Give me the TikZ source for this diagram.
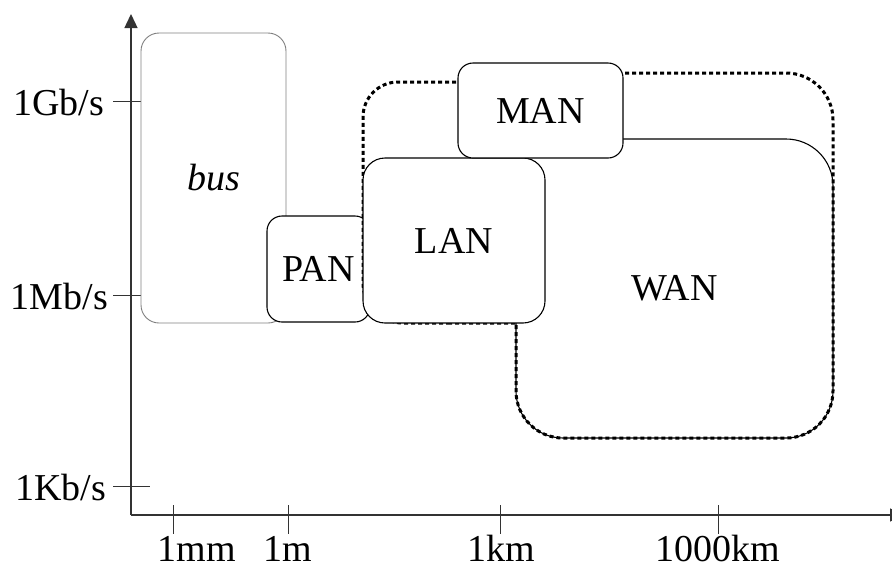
\documentclass[tikz,border=0pt]{standalone}
\usepackage{fontspec}
\setmainfont{Liberation Serif}
\usetikzlibrary{arrows.meta}

\begin{document}
\begin{tikzpicture}[x=1pt,y=-1pt,
  net/.style={draw,line width=1.1pt,fill=white,inner sep=0pt,font=\fontsize{38}{42}\selectfont},
  lbl/.style={inner sep=0pt,font=\fontsize{38}{42}\selectfont},
  axis/.style={draw=black!80,line width=1.4pt,-{Triangle[length=14pt,width=13pt]}},
  tickline/.style={draw=black!80,line width=1pt},
  outline/.style={line width=3pt,dash pattern=on 4pt off 3pt}]
\useasboundingbox (0,0) rectangle (892,574);

% axes
\coordinate (O) at (131,515);
\coordinate (ytop) at (131,14);
\coordinate (xend) at (904,515);
\draw[axis] (O) -- (ytop);
\draw[axis] (O) -- (xend);

% rate axis
\draw[tickline] (113,101) -- (142,101);
\draw[tickline] (113,295) -- (142,295);
\draw[tickline] (113,486) -- (150,486);
\node[lbl,anchor=east] (gbs) at (104,102) {1Gb/s};
\node[lbl,anchor=east] (mbs) at (108,296) {1Mb/s};
\node[lbl,anchor=east] (kbs) at (106,487) {1Kb/s};

% distance axis
\draw[tickline] (173,505) -- (173,534);
\draw[tickline] (288,505) -- (288,534);
\draw[tickline] (500,505) -- (500,534);
\draw[tickline] (718,505) -- (718,534);
\node[lbl,anchor=base] (mm) at (197,561) {1mm};
\node[lbl,anchor=base] (m) at (288,561) {1m};
\node[lbl,anchor=base] (km) at (501,561) {1km};
\node[lbl,anchor=base] (tkm) at (718,561) {1000km};

% networks
\node[net,draw=black!50,line width=0.9pt,rounded corners=18pt,
  minimum width=145pt,minimum height=290pt] (bus) at (213.5,178) {\textit{bus}};
\node[net,rounded corners=15pt,minimum width=103pt,minimum height=106pt] (pan) at (318.5,269) {PAN};
\node[net,rounded corners=47pt,minimum width=317pt,minimum height=299pt] (wan) at (674.5,288.5) {WAN};

\draw[outline] (450,323) [rounded corners=40pt] -- (363,323) [rounded corners=35pt] -- (363,82)
  [sharp corners] -- (540,82) -- (540,73) [rounded corners=47pt] -- (833,73) -- (833,438)
  -- (516,438) [sharp corners] -- (516,323) -- cycle;

\node[net,rounded corners=22pt,minimum width=182pt,minimum height=165pt] (lan) at (454,240.5) {LAN};
\node[net,rounded corners=15pt,minimum width=165pt,minimum height=95pt] (man) at (540.5,110.5) {MAN};
\end{tikzpicture}
\end{document}
